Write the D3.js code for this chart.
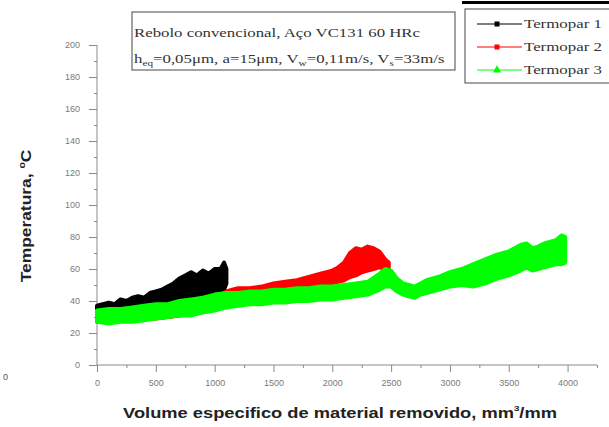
<!DOCTYPE html>
<html><head><meta charset="utf-8">
<script src="https://cdn.jsdelivr.net/npm/d3@7"></script>
<style>html,body{margin:0;padding:0;background:#fff;}svg{display:block;}</style>
</head><body>
<script>
// ---- data ----
const xTicks = [0,500,1000,1500,2000,2500,3000,3500,4000];
const yTicks = [0,20,40,60,80,100,120,140,160,180,200];
const seriesNames = ["Termopar 1","Termopar 2","Termopar 3"];
const seriesColors = ["#000000","#ff0000","#00ff00"];
// [volume, lower edge of band, upper edge of band]
const termopar1 = [
 [0,31,37],[50,32,38],[100,32,39],[150,33,38],[200,33,41],[250,34,40],[300,34,42],[350,35,43],
 [400,36,42],[450,37,45],[500,37,46],[550,39,47],[600,39,49],[650,40,51],[700,41,54],[750,42,56],
 [800,42,58],[850,41,56],[900,43,59],[950,44,57],[1000,45,60],[1050,46,60],[1080,47,64],[1100,51,60]
];
const termopar2 = [
 [0,27,32],[100,27,33],[200,28,33],[300,28,34],[400,29,35],[500,29,36],[600,30,37],[700,31,38],
 [800,32,39],[900,33,40],[1000,35,42],[1100,41,46],[1150,42,47],[1200,42,48],[1300,43,48],
 [1400,44,49],[1500,45,51],[1600,46,52],[1700,47,53],[1800,48,55],[1900,49,57],[2000,51,59],
 [2050,52,61],[2100,53,64],[2150,55,70],[2200,56,73],[2250,58,72],[2300,59,74],[2350,60,73],
 [2400,61,71],[2450,60,66],[2480,59,64]
];
const termopar3 = [
 [0,27,34],[100,26,35],[200,27,35],[300,27,36],[400,28,37],[500,29,38],[600,30,38],[700,31,40],
 [800,31,41],[900,33,42],[1000,34,44],[1100,36,45],[1200,37,45],[1300,38,46],[1400,38,46],
 [1500,39,47],[1600,39,47],[1700,40,48],[1800,40,48],[1900,41,49],[2000,41,49],[2100,42,50],
 [2200,43,51],[2300,44,52],[2400,47,57],[2450,49,60],[2500,49,59],[2550,46,54],[2600,44,51],
 [2650,43,50],[2700,42,49],[2750,44,51],[2800,45,53],[2900,47,55],[3000,49,58],[3100,50,60],
 [3200,49,63],[3300,51,66],[3400,54,69],[3500,56,71],[3600,59,75],[3650,61,76],[3700,59,73],
 [3750,60,74],[3800,61,76],[3900,63,78],[3950,63,81],[3980,64,80]
];
const annotLine1 = "Rebolo convencional, Aço VC131 60 HRc";
const xTitle = "Volume especifico de material removido, mm";

// ---- drawing ----
const W = 609, H = 427;
const svg = d3.select("body").append("svg").attr("width", W).attr("height", H);
const x = d3.scaleLinear().domain([0, 4250]).range([97, 597]);
const y = d3.scaleLinear().domain([0, 200]).range([365, 45]);
const axisColor = "#8a8a8a", labelColor = "#7a7a7a";
const fmt = d3.format("d");

function fitWidth(sel, target) {
  const w = sel.node().getBBox().width;
  return target / w;
}

// y axis
const yAxis = d3.axisLeft(y).tickValues(yTicks).tickFormat(fmt).tickSize(8).tickPadding(9);
const gy = svg.append("g").attr("transform", `translate(${x(0)},0)`).call(yAxis);
gy.selectAll("text").attr("font-family","Liberation Sans, Arial").attr("font-size",9).attr("fill",labelColor);
gy.selectAll("line").attr("stroke",axisColor);
gy.select(".domain").attr("stroke",axisColor).attr("d",`M0,${y(200)}V${y(0)}`);
svg.append("g").attr("transform", `translate(${x(0)},0)`)
  .call(d3.axisLeft(y).tickValues(d3.range(10,200,20)).tickSize(3).tickFormat(""))
  .call(g=>{g.select(".domain").remove(); g.selectAll("line").attr("stroke",axisColor);});

// x axis
const xAxis = d3.axisBottom(x).tickValues(xTicks).tickFormat(fmt).tickSize(7).tickPadding(8);
const gx = svg.append("g").attr("transform", `translate(0,${y(0)})`).call(xAxis);
gx.selectAll("text").attr("font-family","Liberation Sans, Arial").attr("font-size",9).attr("fill",labelColor);
gx.selectAll("line").attr("stroke",axisColor);
gx.select(".domain").attr("stroke",axisColor).attr("d",`M${x(0)},0H${x(4250)}`);
svg.append("g").attr("transform", `translate(0,${y(0)})`)
  .call(d3.axisBottom(x).tickValues([250,750,1250,1750,2250,2750,3250,3750,4250]).tickSize(3).tickFormat(""))
  .call(g=>{g.select(".domain").remove(); g.selectAll("line").attr("stroke",axisColor);});

// stray 0 at far left
svg.append("text").attr("x",3).attr("y",380).attr("font-family","Liberation Sans, Arial")
  .attr("font-size",9).attr("fill","#555").text("0");

// data bands
const area = d3.area().x(d=>x(d[0])).y0(d=>y(d[1])).y1(d=>y(d[2]));
[termopar1, termopar2, termopar3].forEach((s,i)=>{
  svg.append("path").datum(s).attr("d",area)
    .attr("fill",seriesColors[i]).attr("stroke",seriesColors[i]).attr("stroke-width",4)
    .attr("stroke-linejoin","round");
});

// annotation box
svg.append("rect").attr("x",132).attr("y",12).attr("width",323).attr("height",58)
  .attr("fill","#fff").attr("stroke","#666").attr("stroke-width",1.2);
svg.append("text").attr("x",134).attr("y",37).attr("font-family","Liberation Serif, Times New Roman")
  .attr("font-size",12).attr("fill","#333").attr("textLength",286).attr("lengthAdjust","spacingAndGlyphs")
  .text(annotLine1);
const t2 = svg.append("text").attr("x",0).attr("y",0).attr("font-family","Liberation Serif, Times New Roman")
  .attr("font-size",12).attr("fill","#333");
const parts = [["h",0],["eq",1],["=0,05μm, a=15μm, V",0],["w",1],["=0,11m/s, V",0],["s",1],["=33m/s",0]];
let dyPrev = 0;
parts.forEach(p=>{
  const dy = p[1] ? 3 : 0;
  t2.append("tspan").attr("dy", dy - dyPrev).attr("font-size", p[1]?8:12).text(p[0]);
  dyPrev = dy;
});
t2.attr("transform", `translate(134,63) scale(${fitWidth(t2,311)},1)`);

// legend
svg.append("line").attr("x1",462).attr("x2",609).attr("y1",2.5).attr("y2",2.5).attr("stroke","#000").attr("stroke-width",3);
svg.append("rect").attr("x",465).attr("y",9).attr("width",150).attr("height",74)
  .attr("fill","#fff").attr("stroke","#666").attr("stroke-width",1.2);
const ly = [24,47,70];
seriesNames.forEach((n,i)=>{
  svg.append("line").attr("x1",477).attr("x2",522).attr("y1",ly[i]).attr("y2",ly[i])
    .attr("stroke",seriesColors[i]).attr("stroke-width",1.2);
  if (i<2) svg.append("rect").attr("x",494.5).attr("y",ly[i]-2.5).attr("width",5).attr("height",5).attr("fill",seriesColors[i]);
  else svg.append("path").attr("d",d3.symbol(d3.symbolTriangle,30)()).attr("transform",`translate(497,${ly[i]})`).attr("fill",seriesColors[i]);
  svg.append("text").attr("x",524).attr("y",ly[i]+4).attr("font-family","Liberation Serif, Times New Roman")
    .attr("font-size",12).attr("fill","#333").attr("textLength",78).attr("lengthAdjust","spacingAndGlyphs").text(n);
});

// axis titles
const xt = svg.append("text").attr("x",0).attr("y",0).attr("text-anchor","middle")
  .attr("font-family","Liberation Sans, Arial").attr("font-weight","bold").attr("font-size",15).attr("fill","#222");
xt.append("tspan").text(xTitle);
xt.append("tspan").attr("dy",-7).attr("font-size",8).text("3");
xt.append("tspan").attr("dy",7).text("/mm");
xt.attr("transform", `translate(340,418) scale(${fitWidth(xt,434)},1)`);
const yt = svg.append("text").attr("x",0).attr("y",0).attr("text-anchor","middle")
  .attr("font-family","Liberation Sans, Arial").attr("font-weight","bold").attr("font-size",15).attr("fill","#222");
yt.append("tspan").text("Temperatura, ");
yt.append("tspan").attr("dy",-6).attr("font-size",9).text("o");
yt.append("tspan").attr("dy",6).text("C");
yt.attr("transform", `translate(31,216) rotate(-90) scale(${fitWidth(yt,133)},1)`);
</script>
</body></html>
